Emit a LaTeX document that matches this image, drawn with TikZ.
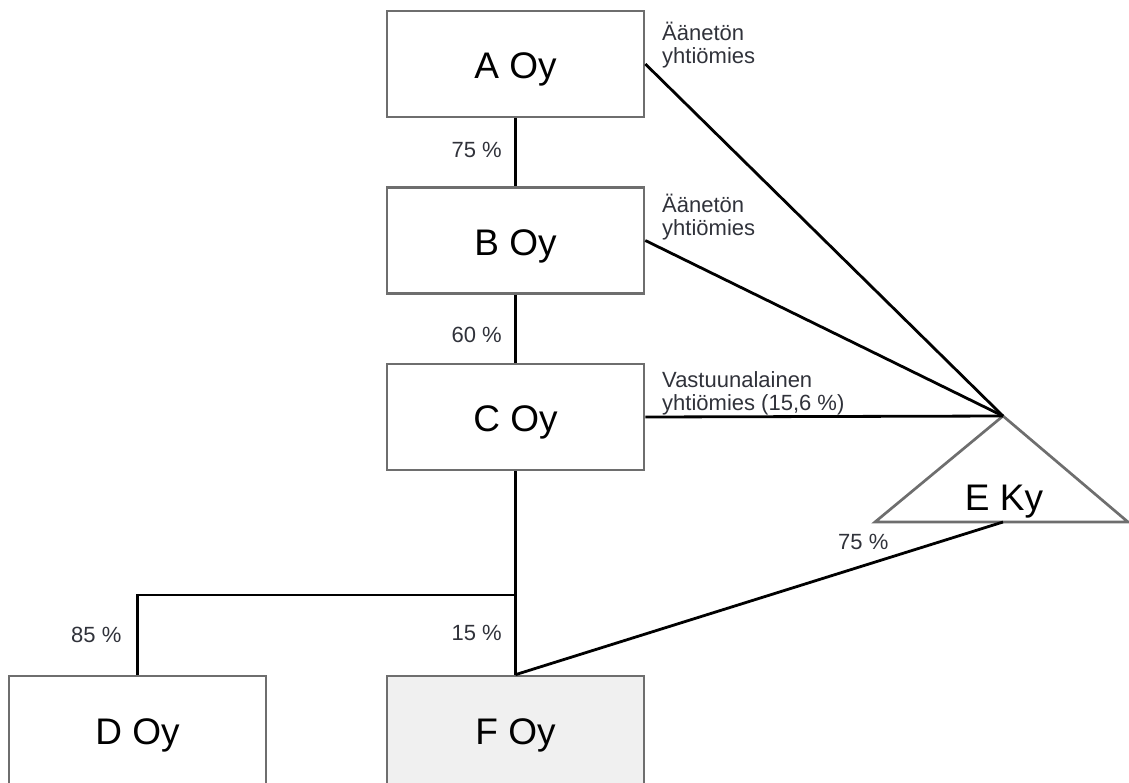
\documentclass[tikz,border=0pt]{standalone}
\usepackage{fontspec}
\setmainfont{Liberation Sans}
\definecolor{edgegray}{HTML}{6E6E6E}
\definecolor{labelgray}{HTML}{30323A}
\definecolor{shadegray}{HTML}{F0F0F0}
\tikzset{
  firm/.style={draw=edgegray, line width=2.7pt, fill=white, rectangle,
    minimum width=257pt, minimum height=106pt, inner sep=0pt,
    font=\fontsize{37}{40}\selectfont, text height=29pt, text depth=0pt},
  lowfirm/.style={firm, minimum height=130pt, text height=6pt},
  link/.style={line width=2.8pt, black},
  note/.style={inner sep=0pt, text=labelgray, align=left,
    font=\fontsize{22}{22.5}\selectfont},
  pct/.style={inner sep=0pt, text=labelgray, font=\fontsize{22}{22.5}\selectfont}
}
\begin{document}
\begin{tikzpicture}[x=1pt, y=-1pt]
\useasboundingbox (0,0) rectangle (1129,782);

% companies
\node[firm] (A) at (515.5,64) {A Oy};
\node[firm] (B) at (515.5,240.5) {B Oy};
\node[firm] (C) at (515.5,417) {C Oy};
\node[lowfirm] (D) at (137.5,741) {D Oy};
\node[lowfirm, fill=shadegray] (F) at (515.5,741) {F Oy};

% limited partnership E Ky as a triangle
\coordinate (apex) at (1003,416);
\coordinate (eleft) at (875,522);
\coordinate (eright) at (1128,522);
\coordinate (ebase) at (1003,522);
\draw[draw=edgegray, line width=2.7pt, fill=white] (apex) -- (eleft) -- (eright) -- cycle;
\node[inner sep=0pt, anchor=base, font=\fontsize{37}{40}\selectfont] (E) at (1004,510) {E Ky};

% ownership chain
\draw[link] (A.south) -- (B.north);
\draw[link] (B.south) -- (C.north);
\coordinate (split) at (515.5,595);
\draw[link] (C.south) -- (split) -- (F.north);
\draw[link] (split) -- (D.north |- split) -- (D.north);

% partners of E Ky
\draw[link] (A.east) -- (apex);
\draw[link] (B.east) -- (apex);
\draw[link] (C.east) -- (apex);
\draw[link] (ebase) -- (F.north);

% labels
\node[pct, anchor=base east] (pAB) at (502,157) {75 \%};
\node[pct, anchor=base east] (pBC) at (502,342) {60 \%};
\node[pct, anchor=base east] (pCF) at (502,640) {15 \%};
\node[pct, anchor=base west] (pCD) at (71,642) {85 \%};
\node[pct, anchor=base west] (pEF) at (838,549) {75 \%};

% two-line notes: base anchor sits on the last line
\node[note, anchor=base west] (nA) at (662,63) {Äänetön\\yhtiömies};
\node[note, anchor=base west] (nB) at (662,235) {Äänetön\\yhtiömies};
\node[note, anchor=base west] (nC) at (662,410) {Vastuunalainen\\yhtiömies (15,6 \%)};
\end{tikzpicture}
\end{document}
